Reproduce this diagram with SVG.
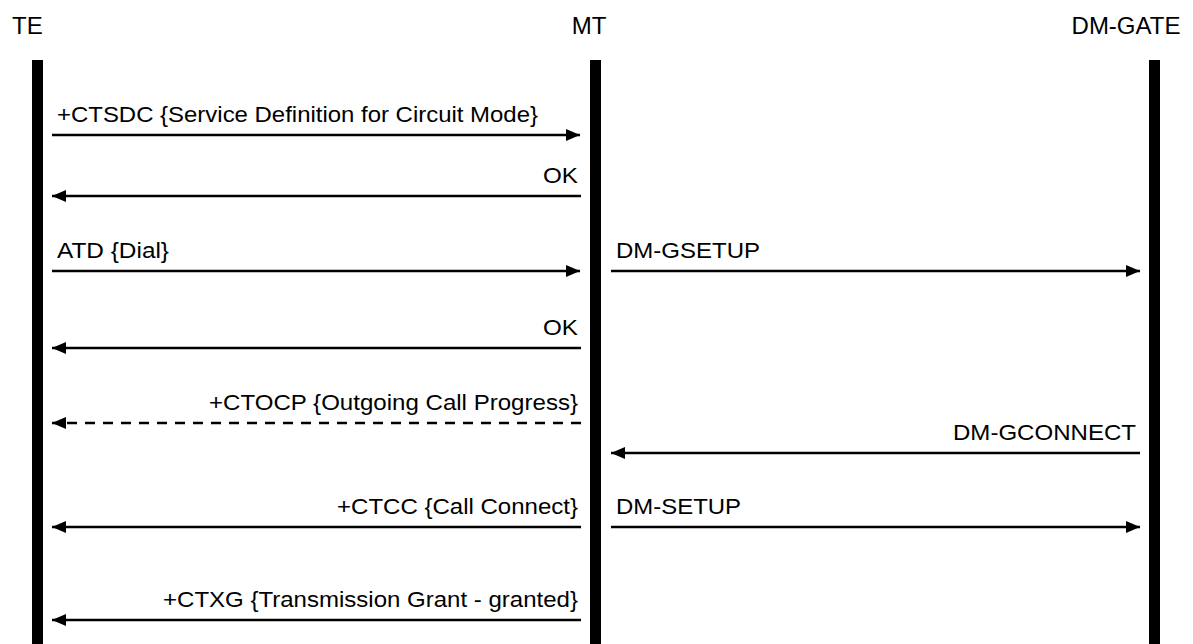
<svg xmlns="http://www.w3.org/2000/svg" width="1193" height="644" viewBox="0 0 1193 644">
<defs>
<style>
text{font-family:"Liberation Sans",Arial,sans-serif;fill:#000}
.h{font-size:24px}
.l{font-size:22.5px}
.life{fill:#000}
.m{stroke:#000;stroke-width:2.5;fill:none}
.d{stroke-dasharray:10,8}
</style>
<marker id="ah" viewBox="0 0 14 12" refX="14" refY="6" markerWidth="14" markerHeight="12" markerUnits="userSpaceOnUse" orient="auto">
<path d="M0,0 L14,6 L0,12 Z" fill="#000"/>
</marker>
</defs>
<rect width="1193" height="644" fill="#fff"/>
<g id="TE"><text class="h" x="12" y="34">TE</text><rect class="life" x="32" y="60" width="11" height="584"/></g>
<g id="MT"><text class="h" x="589" y="34" text-anchor="middle">MT</text><rect class="life" x="590" y="60" width="11" height="584"/></g>
<g id="DM-GATE"><text class="h" x="1126" y="34" text-anchor="middle">DM-GATE</text><rect class="life" x="1149" y="60" width="11" height="584"/></g>
<g id="connectors">
<line class="m" x1="52" y1="135" x2="580" y2="135" marker-end="url(#ah)"/>
<text class="l" x="57" y="122" textLength="481" lengthAdjust="spacingAndGlyphs">+CTSDC {Service Definition for Circuit Mode}</text>
<line class="m" x1="581" y1="196" x2="52" y2="196" marker-end="url(#ah)"/>
<text class="l" x="543" y="183" textLength="35" lengthAdjust="spacingAndGlyphs">OK</text>
<line class="m" x1="52" y1="271" x2="580" y2="271" marker-end="url(#ah)"/>
<text class="l" x="57" y="258" textLength="112" lengthAdjust="spacingAndGlyphs">ATD {Dial}</text>
<line class="m" x1="611" y1="271" x2="1140" y2="271" marker-end="url(#ah)"/>
<text class="l" x="616" y="258" textLength="144" lengthAdjust="spacingAndGlyphs">DM-GSETUP</text>
<line class="m" x1="581" y1="348" x2="52" y2="348" marker-end="url(#ah)"/>
<text class="l" x="543" y="335" textLength="35" lengthAdjust="spacingAndGlyphs">OK</text>
<line class="m d" x1="581" y1="423" x2="52" y2="423" marker-end="url(#ah)"/>
<text class="l" x="209" y="410" textLength="369" lengthAdjust="spacingAndGlyphs">+CTOCP {Outgoing Call Progress}</text>
<line class="m" x1="1140" y1="453" x2="611" y2="453" marker-end="url(#ah)"/>
<text class="l" x="953" y="440" textLength="183" lengthAdjust="spacingAndGlyphs">DM-GCONNECT</text>
<line class="m" x1="581" y1="527" x2="52" y2="527" marker-end="url(#ah)"/>
<text class="l" x="337" y="514" textLength="241" lengthAdjust="spacingAndGlyphs">+CTCC {Call Connect}</text>
<line class="m" x1="611" y1="527" x2="1140" y2="527" marker-end="url(#ah)"/>
<text class="l" x="616" y="514" textLength="125" lengthAdjust="spacingAndGlyphs">DM-SETUP</text>
<line class="m" x1="581" y1="620" x2="52" y2="620" marker-end="url(#ah)"/>
<text class="l" x="163" y="607" textLength="415" lengthAdjust="spacingAndGlyphs">+CTXG {Transmission Grant - granted}</text>
</g>
</svg>
